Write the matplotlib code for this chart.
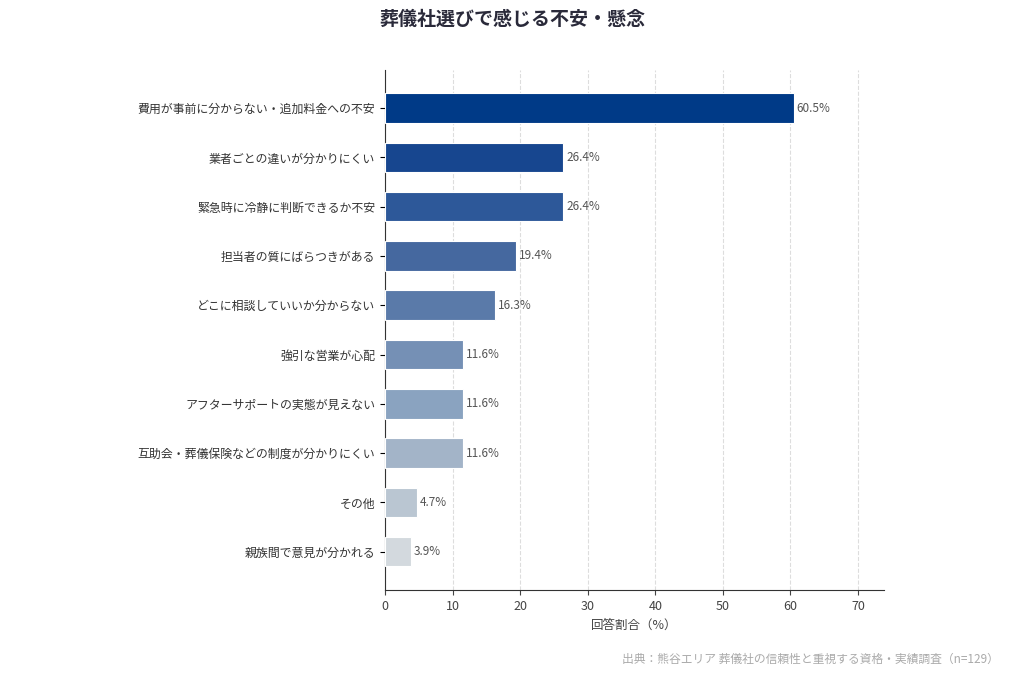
import matplotlib.pyplot as plt

plt.rcParams['font.family'] = ['Noto Sans CJK JP', 'DejaVu Sans']

categories = [
    '費用が事前に分からない・追加料金への不安',
    '業者ごとの違いが分かりにくい',
    '緊急時に冷静に判断できるか不安',
    '担当者の質にばらつきがある',
    'どこに相談していいか分からない',
    '強引な営業が心配',
    'アフターサポートの実態が見えない',
    '互助会・葬儀保険などの制度が分かりにくい',
    'その他',
    '親族間で意見が分かれる',
]
values = [60.5, 26.4, 26.4, 19.4, 16.3, 11.6, 11.6, 11.6, 4.7, 3.9]
colors = ['#003a87', '#17468f', '#2d5899', '#45689f', '#5a7aa9',
          '#7590b5', '#8aa3c0', '#a3b4c8', '#bac6d2', '#d3d9de']

fig = plt.figure(figsize=(10.24, 6.83), dpi=100)
ax = fig.add_axes([0.376, 0.136, 0.487, 0.762])

y = range(len(categories))
ax.barh(y, values, height=0.6, color=colors, edgecolor='white', linewidth=0.8, zorder=3)
ax.invert_yaxis()
ax.set_yticks(list(y))
ax.set_yticklabels(categories, fontsize=8.6, color='#333333')

for i, v in enumerate(values):
    ax.text(v + 0.4, i, f'{v}%', va='center', ha='left', fontsize=8.5, color='#555555')

ax.set_xlim(0, 73.8)
ax.set_xticks(range(0, 80, 10))
ax.tick_params(axis='x', labelsize=9, colors='#444444')
ax.set_xlabel('回答割合（%）', fontsize=9, color='#444444')
ax.grid(axis='x', linestyle='--', color='#dddddd', linewidth=0.8, zorder=0)

for s in ['top', 'right']:
    ax.spines[s].set_visible(False)
ax.spines['left'].set_color('#333333')
ax.spines['bottom'].set_color('#333333')

fig.text(0.5, 0.972, '葬儀社選びで感じる不安・懸念', ha='center', va='center',
         fontsize=13.7, fontweight='bold', color='#2a2a3a')
fig.text(0.975, 0.034, '出典：熊谷エリア 葬儀社の信頼性と重視する資格・実績調査（n=129）',
         ha='right', va='center', fontsize=8.5, color='#aaaaaa')

fig.savefig('out.png', dpi=100)
